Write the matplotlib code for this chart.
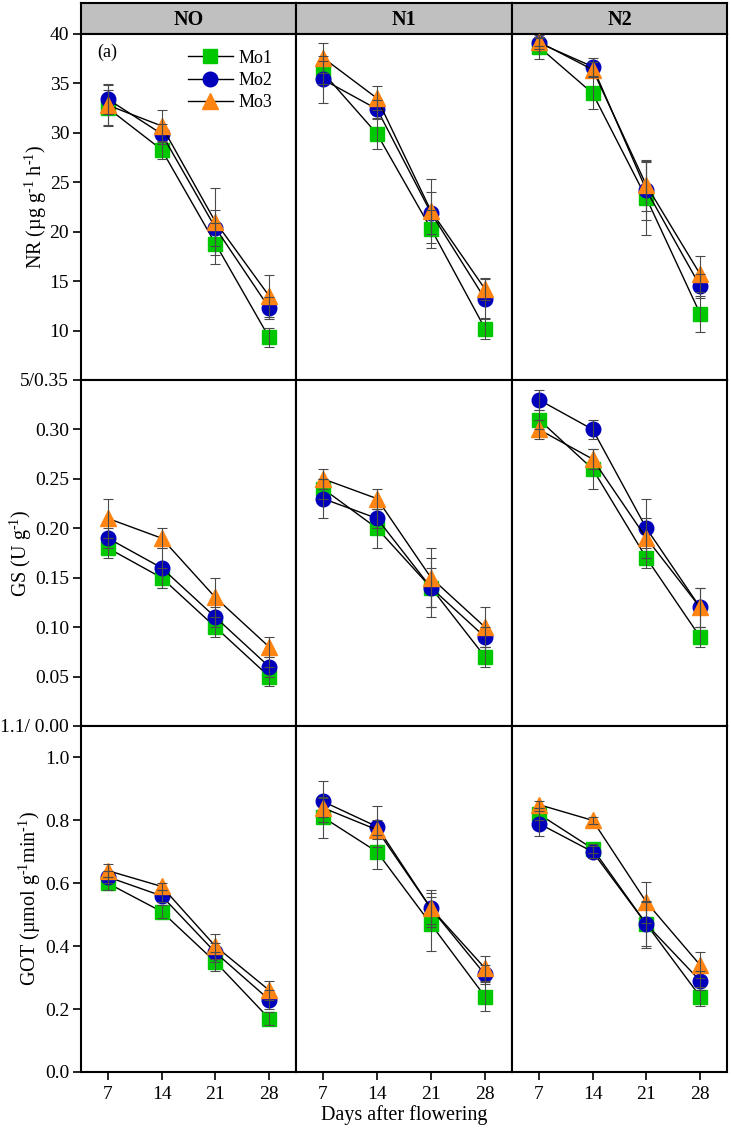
import numpy as np
import matplotlib
matplotlib.use('Agg')
import matplotlib.pyplot as plt

plt.rcParams['font.family'] = ['Liberation Serif', 'DejaVu Serif']
plt.rcParams['mathtext.fontset'] = 'custom'
plt.rcParams['mathtext.rm'] = 'Liberation Serif'
plt.rcParams['mathtext.it'] = 'Liberation Serif:italic'

days = [7, 14, 21, 28]
treatments = ['NO', 'N1', 'N2']
series = ['Mo1', 'Mo2', 'Mo3']

# NR, one row per N level (NO, N1, N2)
nr_mo1 = [[32.5, 28.3, 18.8, 9.3], [36.1, 29.9, 20.3, 10.2], [38.7, 34.0, 23.4, 11.7]]
nr_mo2 = [[33.4, 29.9, 20.4, 12.3], [35.4, 32.4, 21.9, 13.2], [39.1, 36.7, 24.2, 14.5]]
nr_mo3 = [[32.8, 30.7, 21.0, 13.5], [37.6, 33.5, 22.1, 14.2], [39.2, 36.4, 24.7, 15.7]]
nr_mo1_err = [[1.8, 0.9, 2.1, 1.0], [1.2, 1.5, 1.9, 1.1], [1.2, 1.6, 3.7, 1.8]]
nr_mo2_err = [[1.5, 1.0, 1.8, 1.1], [2.4, 0.9, 2.1, 2.0], [0.6, 0.9, 3.0, 1.2]]
nr_mo3_err = [[2.0, 1.6, 3.4, 2.1], [1.5, 1.2, 3.2, 1.1], [0.4, 0.8, 2.6, 1.8]]

# GS
gs_mo1 = [[0.18, 0.15, 0.10, 0.05], [0.24, 0.20, 0.14, 0.07], [0.31, 0.26, 0.17, 0.09]]
gs_mo2 = [[0.19, 0.16, 0.11, 0.06], [0.23, 0.21, 0.14, 0.09], [0.33, 0.30, 0.20, 0.12]]
gs_mo3 = [[0.21, 0.19, 0.13, 0.08], [0.25, 0.23, 0.15, 0.10], [0.30, 0.27, 0.19, 0.12]]
gs_mo1_err = [[0.01, 0.01, 0.01, 0.01], [0.01, 0.02, 0.02, 0.01], [0.01, 0.02, 0.01, 0.01]]
gs_mo2_err = [[0.01, 0.02, 0.01, 0.01], [0.02, 0.01, 0.03, 0.01], [0.01, 0.01, 0.03, 0.02]]
gs_mo3_err = [[0.02, 0.01, 0.02, 0.01], [0.01, 0.01, 0.03, 0.02], [0.01, 0.01, 0.02, 0.02]]

# GOT
got_mo1 = [[0.60, 0.51, 0.35, 0.17], [0.81, 0.70, 0.47, 0.24], [0.82, 0.71, 0.47, 0.24]]
got_mo2 = [[0.62, 0.56, 0.38, 0.23], [0.86, 0.78, 0.52, 0.31], [0.79, 0.70, 0.47, 0.29]]
got_mo3 = [[0.64, 0.59, 0.40, 0.26], [0.84, 0.77, 0.52, 0.33], [0.85, 0.80, 0.54, 0.34]]
got_mo1_err = [[0.02, 0.02, 0.03, 0.02], [0.065, 0.055, 0.085, 0.045], [0.02, 0.015, 0.075, 0.03]]
got_mo2_err = [[0.02, 0.02, 0.03, 0.03], [0.065, 0.065, 0.06, 0.03], [0.04, 0.02, 0.07, 0.03]]
got_mo3_err = [[0.02, 0.01, 0.04, 0.03], [0.03, 0.03, 0.05, 0.04], [0.01, 0.01, 0.065, 0.04]]

rows = [
    ([nr_mo1, nr_mo2, nr_mo3], [nr_mo1_err, nr_mo2_err, nr_mo3_err]),
    ([gs_mo1, gs_mo2, gs_mo3], [gs_mo1_err, gs_mo2_err, gs_mo3_err]),
    ([got_mo1, got_mo2, got_mo3], [got_mo1_err, got_mo2_err, got_mo3_err]),
]
ylims = [(5, 40), (0, 0.35), (0, 1.1)]
yticks = [[10, 15, 20, 25, 30, 35, 40],
          [0.05, 0.10, 0.15, 0.20, 0.25, 0.30, 0.35],
          [0.0, 0.2, 0.4, 0.6, 0.8, 1.0, 1.1]]
yticklabels = [['10', '15', '20', '25', '30', '35', '40'],
               ['0.05', '0.10', '0.15', '0.20', '0.25', '0.30', '5/0.35'],
               ['0.0', '0.2', '0.4', '0.6', '0.8', '1.0', '1.1/ 0.00']]
ylabels = [r'NR (µg g$^{\text{-}1}$ h$^{\text{-}1}$)', r'GS (U g$^{\text{-}1}$)',
           r'GOT (µmol g$^{\text{-}1}$min$^{\text{-}1}$)']
ylabel_x = [36, 21, 30]

colors = ['#00c800', '#0000bb', '#ff8412']
markers = ['s', 'o', '^']
msizes = [9.5, 10.5, 11.5]

W, H = 731, 1128
fig = plt.figure(figsize=(W / 100, H / 100), dpi=100)

col_x = [81, 296, 512, 727]
row_y = [34, 380, 726, 1072]


def px_rect(x0, x1, y0, y1):
    return [x0 / W, 1 - y1 / H, (x1 - x0) / W, (y1 - y0) / H]


# header strip
for c, name in enumerate(treatments):
    hax = fig.add_axes(px_rect(col_x[c], col_x[c + 1], 3, row_y[0]))
    hax.set_facecolor('#c0c0c0')
    hax.set_xticks([])
    hax.set_yticks([])
    for s in hax.spines.values():
        s.set_linewidth(1.5)
    hax.text(0.5, 0.45, name, transform=hax.transAxes, ha='center', va='center',
             fontsize=14.5, fontweight='bold')

for r in range(3):
    means, errs = rows[r]
    for c in range(3):
        ax = fig.add_axes(px_rect(col_x[c], col_x[c + 1], row_y[r], row_y[r + 1]))
        for k in range(3):
            ax.plot(days, means[k][c], color='black', lw=1, marker=markers[k],
                    ms=msizes[k], mfc=colors[k], mec=colors[k], label=series[k], zorder=2 + k)
        for k in range(3):
            ax.errorbar(days, means[k][c], yerr=errs[k][c], fmt='none', ecolor='#4a4a4a',
                        elinewidth=0.8, capsize=3.5, capthick=0.8, zorder=6)
        ax.set_xlim(3.5, 31.5)
        ax.set_ylim(*ylims[r])
        for s in ax.spines.values():
            s.set_linewidth(1.5)
        ax.tick_params(direction='out', length=6, width=1.2, labelsize=14, pad=2.5)
        if c == 0:
            ax.set_yticks(yticks[r])
            ax.set_yticklabels(yticklabels[r])
        else:
            ax.set_yticks([])
        if r == 2:
            ax.set_xticks(days)
            ax.set_xticklabels([str(d) for d in days])
            ax.tick_params(axis='x', pad=4)
        else:
            ax.set_xticks([])
        if r == 0 and c == 0:
            ax.text(0.074, 0.948, '(a)', transform=ax.transAxes, fontsize=13,
                    ha='left', va='center')
            ax.legend(loc='upper right', bbox_to_anchor=(0.89, 0.955), frameon=False,
                      fontsize=13, handlelength=2.5, handletextpad=0.3,
                      labelspacing=0.3, borderaxespad=0, borderpad=0)
    fig.text(ylabel_x[r] / W, 1 - (row_y[r] + row_y[r + 1]) / 2 / H, ylabels[r],
             rotation=90, ha='center', va='center', fontsize=14.5)

fig.text(404 / W, 1 - 1115 / H, 'Days after flowering', ha='center', va='center', fontsize=14.5)

fig.savefig('out.png', dpi=100)
